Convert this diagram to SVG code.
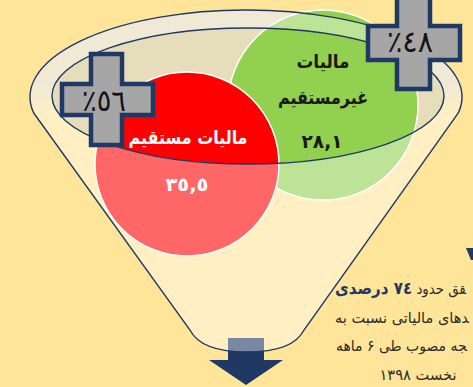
<svg xmlns="http://www.w3.org/2000/svg" width="473" height="387" viewBox="0 0 473 387">
  <defs>
    <linearGradient id="rimShade" gradientUnits="userSpaceOnUse" x1="0" y1="10" x2="0" y2="184">
      <stop offset="0" stop-color="#E4DBBA" stop-opacity="1"/>
      <stop offset="0.4" stop-color="#E4DBBA" stop-opacity="1"/>
      <stop offset="0.62" stop-color="#E4DBBA" stop-opacity="0"/>
    </linearGradient>
    <style>
      .line { fill: none; stroke: #1F3864; stroke-width: 1.4; }
      .cross { fill: #A6A6A6; stroke: #1F3864; stroke-width: 4.5; stroke-linejoin: miter; }
      .num { font-family: "DejaVu Sans", "Noto Sans", sans-serif; unicode-bidi: bidi-override; direction: ltr; text-anchor: middle; }
      .ar { font-family: "DejaVu Sans", "Noto Sans", sans-serif; }
      .lbl { font-weight: bold; font-size: 19px; text-anchor: middle; }
      .pct { font-size: 30px; fill: #141414; }
      .cap { font-size: 15px; fill: #2B2B2B; }
    </style>
  </defs>

  <rect x="0" y="0" width="473" height="387" fill="#FFE599"/>

  <g id="funnel-back">
    <ellipse cx="246" cy="97" rx="216" ry="87" fill="url(#rimShade)"/>
    <ellipse cx="248" cy="96" rx="196" ry="68" fill="#E6DDBA"/>
  </g>

  <g id="connectors">
    <path d="M228,338 H264 V360 H283 L246,385 L209,360 H228 Z" fill="#1F3864"/>
  </g>

  <g id="indirect-tax">
    <circle cx="323" cy="105" r="95" fill="#92D050" stroke="#FFFFFF" stroke-width="1.5"/>
  </g>
  <g id="direct-tax">
    <circle cx="187" cy="164" r="92" fill="#FF0000" stroke="#FFFFFF" stroke-width="1.5"/>
  </g>

  <g id="funnel-front">
    <path d="M33.7,113 L190,330 C198,346 218,352 247,352 C276,352 296,346 304,330 L458.3,113 A216,87 0 1 0 33.7,113 Z M52,96 A196,68 0 1 0 444,96 A196,68 0 1 0 52,96 Z" fill="#FFFFFF" fill-opacity="0.4" fill-rule="evenodd"/>
    <path class="line" d="M33.7,113 L190,330 C198,346 218,352 247,352 C276,352 296,346 304,330 L458.3,113 A216,87 0 1 0 33.7,113"/>
    <ellipse class="line" cx="248" cy="96" rx="196" ry="68"/>
  </g>

  <g id="direct-tax-labels">
    <text class="ar lbl" x="188" y="144" fill="#FFFFFF" textLength="119" lengthAdjust="spacingAndGlyphs">مالیات مستقیم</text>
    <text class="num" x="187" y="191" font-size="19" font-weight="bold" fill="#FFFFFF" textLength="43" lengthAdjust="spacingAndGlyphs">٣٥,٥</text>
  </g>
  <g id="indirect-tax-labels">
    <text class="ar lbl" x="323" y="68" fill="#1A1A1A" textLength="53" lengthAdjust="spacingAndGlyphs">مالیات</text>
    <text class="ar lbl" x="323" y="104" fill="#1A1A1A" textLength="90" lengthAdjust="spacingAndGlyphs">غیرمستقیم</text>
    <text class="num" x="322" y="148" font-size="19" font-weight="bold" fill="#1A1A1A" textLength="41" lengthAdjust="spacingAndGlyphs">٢٨,١</text>
  </g>

  <g id="cross-56">
    <path class="cross" d="M91,54 H122 V84 H153 V115 H122 V145 H91 V115 H62 V84 H91 Z"/>
    <text class="num pct" x="104" y="111" textLength="44" lengthAdjust="spacingAndGlyphs">٪٥٦</text>
  </g>
  <g id="cross-48">
    <path class="cross" d="M397,-3 H430 V26 H460 V60 H430 V89 H397 V60 H368 V26 H397 Z"/>
    <text class="num pct" x="410" y="52" textLength="46" lengthAdjust="spacingAndGlyphs">٪٤٨</text>
  </g>

  <g id="caption">
    <polygon points="466,248 473,248 473,260 471,260" fill="#1F3864"/>
    <text class="ar cap" x="335" y="294" direction="rtl" text-anchor="end" textLength="131" lengthAdjust="spacingAndGlyphs">&#x200D;قق حدود <tspan font-weight="bold" font-size="17px" fill="#1F3864">٧٤ درصدی</tspan></text>
    <text class="ar cap" x="335" y="323" direction="rtl" text-anchor="end" textLength="134" lengthAdjust="spacingAndGlyphs">&#x200D;دهای مالیاتی نسبت به</text>
    <text class="ar cap" x="336" y="351" direction="rtl" text-anchor="end" textLength="131" lengthAdjust="spacingAndGlyphs">&#x200D;جه مصوب طی ۶ ماهه</text>
    <text class="ar cap" x="418" y="380" direction="rtl" text-anchor="middle" textLength="77" lengthAdjust="spacingAndGlyphs">نخست ١٣٩٨</text>
  </g>
</svg>
